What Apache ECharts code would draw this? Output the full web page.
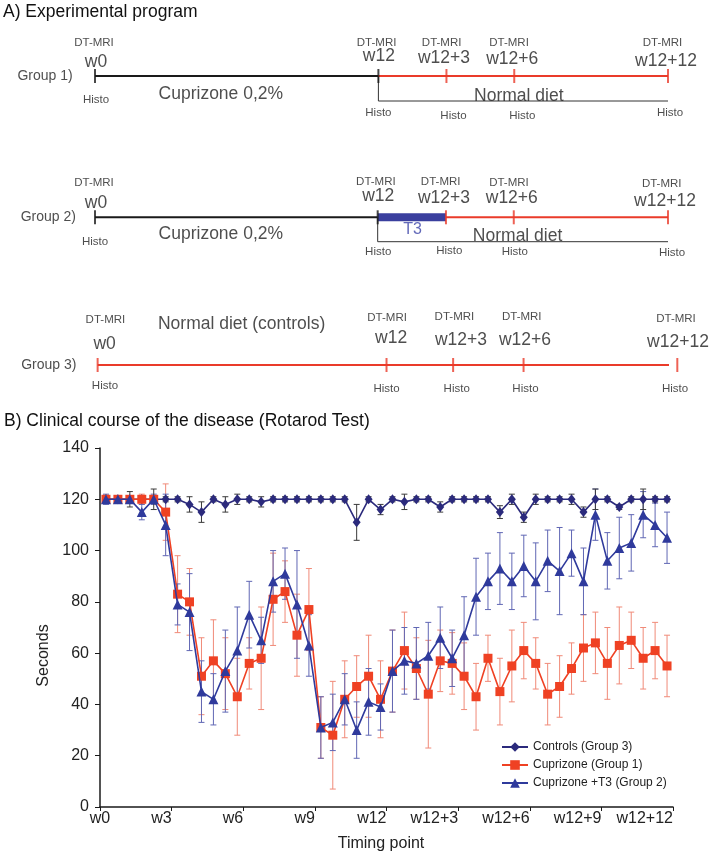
<!DOCTYPE html>
<html>
<head>
<meta charset="utf-8">
<script src="https://cdn.jsdelivr.net/npm/echarts@6.0.0/dist/echarts.min.js"></script>
<style>html,body{margin:0;padding:0;background:#fff}#c{width:709px;height:853px}</style>
</head>
<body>
<div id="c"></div>
<script>
// ---------- DATA ----------
// Panel A: timeline positions (weeks, as drawn) of the 5 timepoints per group
const timeLabels = ['w0', 'w12', 'w12+3', 'w12+6', 'w12+12'];
const group1Pos = [0, 11.87, 14.72, 17.56, 24.0];
const group2Pos = [0, 11.84, 14.70, 17.54, 24.0];
const group3Pos = [0.11, 12.21, 15.0, 17.95, 24.39];
const groupNames = ['Group 1)', 'Group 2)', 'Group 3)'];

// Panel B: rotarod test, 48 time points (half-week bins), seconds
const xTickLabels = ['w0', 'w3', 'w6', 'w9', 'w12', 'w12+3', 'w12+6', 'w12+9', 'w12+12'];
const seriesNames = ['Controls (Group 3)', 'Cuprizone (Group 1)', 'Cuprizone +T3 (Group 2)'];
const controls = [120,120,120,120,120,120,120,118,115,120,118,120,120,119,120,120,120,120,120,120,120,111,120,116,120,119,120,120,117,120,120,120,120,115,120,113,120,120,120,120,115,120,120,117,120,120,120,120];
const controlsErr = [1.5,1,3,1,4,1,1,3,4,1,3,2,1,2,1,1,1,1,1,1,1,7,1,2,1,3,1,1,2,1,1,1,1,2.5,2,2,2,1,1,2,2,4,1,1,1,4,1,1];
const cuprizone = [120,120,120,120,120,115,83,80,51,57,52,43,56,58,81,84,67,77,31,28,42,47,51,42,53,61,54,44,57,56,51,43,58,45,55,61,56,44,47,54,62,64,56,63,65,58,61,55];
const cuprizoneErr = [1,1,1,2,1,11,15,13,15,16,14,15,10,20,18,12,16,16,12,21,15,12,16,15,16,15,12,21,12,12,13,13,9,13,14,11,10,12,12,10,13,12,14,15,11,12,11,12];
const cuprizoneT3 = [120,120,120,115,120,110,79,76,45,42,53,61,75,65,88,91,79,63,31,33,42,30,41,39,53,57,56,59,66,58,67,82,88,93,88,94,88,96,92,99,88,114,96,101,103,114,110,105];
const cuprizoneT3Err = [2,1,1,3,2,12,8,15,12,10,16,17,13,9,12,10,21,12,12,11,10,11,13,9,16,13,14,13,12,11,15,15,11,14,11,12,15,12,17,9,13,10,11,12,11,9,8.5,10];

// ---------- STYLE / LAYOUT ----------
const FONT = 'Liberation Sans, Arial, sans-serif';
const BLACK = '#1a1a1a', RED = '#ea3b2a', BAR = '#3a3f9e', TXT = '#222';
const NAVY = '#2b2a7c', SQ = '#ef4123', TRI = '#2f3a9c';

const rowLayout = [
  {top: 36, wDx:[1,0.5,-2.5,-2,-2], wDy:[-14.3,-20,-17.7,-17.3,-15.3],
   dDx:[-1,-1.8,-4.8,-5.2,-5.5], dDy:[-32.7,-33.3,-33.3,-33,-32.7],
   hDx:[1,0,7,8,2], hDy:[24,37,39.7,39.7,37], gDx:-50,
   segs:[[0,1,BLACK,2],[1,4,RED,2]], ticks:[BLACK,BLACK,RED,RED,RED], arrowDy:25,
   texts:[{x:5.27, t:'Cuprizone 0,2%', dy:18}, {x:17.75, t:'Normal diet', dy:19.7}]},
  {top: 177.3, wDx:[1,0.5,-2,-2,-3], wDy:[-14.6,-21.3,-19,-19,-16.6],
   dDx:[-1,-1.8,-5.3,-4.8,-6.3], dDy:[-34,-35,-35.3,-34.6,-33.3],
   hDx:[0,0.5,3.3,1,4], hDy:[24.4,34.4,33.4,34.4,35.4], gDx:-46.7,
   segs:[[0,1,BLACK,2],[1,2,BAR,8],[2,4,RED,2]], ticks:[BLACK,BLACK,RED,RED,RED], arrowDy:24.4,
   texts:[{x:5.27, t:'Cuprizone 0,2%', dy:16.7}, {x:17.7, t:'Normal diet', dy:18.7},
          {x:13.3, t:'T3', dy:12.5, color:'#3b44a8', size:16}]},
  {top: 325, wDx:[7,4.6,7.8,1.4,0.7], wDy:[-20.5,-27.3,-25,-25,-23],
   dDx:[7.8,0.6,1.3,-1.8,-1.3], dDy:[-45.5,-47,-48,-48,-46],
   hDx:[7.3,0,3.6,1.9,-2.3], hDy:[20.5,24,24,24,24], gDx:-48.8,
   segs:[[0,4,RED,2]], ticks:[RED,RED,RED,RED,RED], arrowDy:null,
   texts:[{x:6.14, t:'Normal diet (controls)', dy:-41}]}
];
const groupPos = [group1Pos, group2Pos, group3Pos];

const grids = [], xAxes = [], yAxes = [], series = [];

function txt(x, text, dx, dy, size, color) {
  return {value:[x, 0], label:{show:true, position:'inside', formatter:text, offset:[dx, dy],
    fontSize:size, color:color || TXT, fontFamily:FONT}};
}

rowLayout.forEach((L, gi) => {
  const pos = groupPos[gi];
  grids.push({left:95, right:41, top:L.top, height:80});
  xAxes.push({gridIndex:gi, type:'value', min:0, max:24, show:false});
  yAxes.push({gridIndex:gi, type:'value', min:-1, max:1, show:false});
  L.segs.forEach(s => {
    series.push({type:'line', xAxisIndex:gi, yAxisIndex:gi, clip:false, silent:true, symbol:'none',
      data:[[pos[s[0]], 0], [pos[s[1]], 0]], lineStyle:{color:s[2], width:s[3]}, z:2});
  });
  series.push({type:'scatter', xAxisIndex:gi, yAxisIndex:gi, clip:false, silent:true,
    symbol:'rect', symbolSize:[2, 14],
    data: pos.map((p, i) => ({value:[p, 0], itemStyle:{color:L.ticks[i]}})), z:3});
  if (L.arrowDy !== null) {
    const ay = -L.arrowDy / 40;
    series.push({type:'lines', coordinateSystem:'cartesian2d', xAxisIndex:gi, yAxisIndex:gi,
      polyline:true, silent:true, clip:false, symbol:['none','arrow'], symbolSize:6,
      lineStyle:{color:'#333', width:1, opacity:1},
      data:[{coords:[[pos[1], 0], [pos[1], ay], [pos[4], ay]]}], z:1});
  }
  const items = [];
  pos.forEach((p, i) => {
    items.push(txt(p, timeLabels[i], L.wDx[i], L.wDy[i], 17.5));
    items.push(txt(p, 'DT-MRI', L.dDx[i], L.dDy[i], 11.5));
    items.push(txt(p, 'Histo', L.hDx[i], L.hDy[i], 11.5));
  });
  items.push(txt(pos[0], groupNames[gi], L.gDx, 0, 14));
  L.texts.forEach(t => items.push(txt(t.x, t.t, 0, t.dy, t.size || 17.5, t.color)));
  series.push({type:'scatter', xAxisIndex:gi, yAxisIndex:gi, clip:false, silent:true,
    symbolSize:1, itemStyle:{color:'rgba(0,0,0,0)'}, data:items, z:5});
});

// ---------- PANEL B ----------
const G = 3;
grids.push({left:100, top:448, width:573, height:360});
xAxes.push({gridIndex:G, type:'value', min:0, max:48, interval:6,
  axisLine:{show:true, lineStyle:{color:BLACK, width:1.5}},
  axisTick:{show:true, inside:false, length:4, lineStyle:{color:BLACK}},
  splitLine:{show:false},
  axisLabel:{formatter: v => (v === 0 ? '' : xTickLabels[v / 6]), align:'right', margin:4,
    fontSize:16, color:TXT, fontFamily:FONT},
  name:'Timing point', nameLocation:'middle', nameGap:29,
  nameTextStyle:{fontSize:16, color:TXT, fontFamily:FONT, padding:[0, 11, 0, 0]}});
xAxes.push({gridIndex:G, type:'value', min:0, max:48, interval:6, position:'bottom', offset:0,
  axisLine:{show:false}, axisTick:{show:false}, splitLine:{show:false},
  axisLabel:{formatter: v => (v === 0 ? xTickLabels[0] : ''), align:'center', margin:4,
    fontSize:16, color:TXT, fontFamily:FONT}});
yAxes.push({gridIndex:G, type:'value', min:0, max:140, interval:20,
  axisLine:{show:true, lineStyle:{color:BLACK, width:1.5}},
  axisTick:{show:true, inside:false, length:5, lineStyle:{color:BLACK}},
  splitLine:{show:false},
  axisLabel:{margin:11, fontSize:16, color:TXT, fontFamily:FONT},
  name:'Seconds', nameLocation:'middle', nameGap:38, nameRotate:90,
  nameTextStyle:{fontSize:16, color:TXT, fontFamily:FONT, padding:[0, 56, 0, 0]}});

function errSeries(vals, errs, color) {
  return {type:'custom', xAxisIndex:G, yAxisIndex:G, silent:true, z:2,
    data: vals.map((v, i) => [i + 0.5, v - errs[i], v + errs[i]]),
    encode:{x:0, y:[1, 2]},
    renderItem: (params, api) => {
      const x = api.value(0);
      const lo = api.coord([x, api.value(1)]), hi = api.coord([x, api.value(2)]);
      const w = 3, st = {stroke:color, lineWidth:1};
      return {type:'group', children:[
        {type:'line', shape:{x1:lo[0], y1:lo[1], x2:hi[0], y2:hi[1]}, style:st},
        {type:'line', shape:{x1:hi[0]-w, y1:hi[1], x2:hi[0]+w, y2:hi[1]}, style:st},
        {type:'line', shape:{x1:lo[0]-w, y1:lo[1], x2:lo[0]+w, y2:lo[1]}, style:st}
      ]};
    }};
}
series.push(errSeries(cuprizone, cuprizoneErr, '#f08a78'));
series.push(errSeries(cuprizoneT3, cuprizoneT3Err, '#6067b4'));
series.push(errSeries(controls, controlsErr, '#3a3a3a'));

const toXY = arr => arr.map((v, i) => [i + 0.5, v]);
series.push({name:seriesNames[0], type:'line', xAxisIndex:G, yAxisIndex:G, data:toXY(controls),
  symbol:'diamond', symbolSize:[8, 10], lineStyle:{color:NAVY, width:1.6}, itemStyle:{color:NAVY}, z:3});
series.push({name:seriesNames[1], type:'line', xAxisIndex:G, yAxisIndex:G, data:toXY(cuprizone),
  symbol:'rect', symbolSize:9, lineStyle:{color:SQ, width:1.6}, itemStyle:{color:SQ}, z:4});
series.push({name:seriesNames[2], type:'line', xAxisIndex:G, yAxisIndex:G, data:toXY(cuprizoneT3),
  symbol:'triangle', symbolSize:10, lineStyle:{color:TRI, width:1.6}, itemStyle:{color:TRI}, z:5});

const chart = echarts.init(document.getElementById('c'), null, {renderer:'canvas'});
chart.setOption({
  animation:false,
  backgroundColor:'#fff',
  title:[
    {text:'A) Experimental program', left:3, top:3, padding:0,
     textStyle:{fontSize:17.5, fontWeight:'normal', color:'#111', fontFamily:FONT}},
    {text:'B) Clinical course of the disease (Rotarod Test)', left:4, top:412, padding:0,
     textStyle:{fontSize:17.5, fontWeight:'normal', color:'#111', fontFamily:FONT}}
  ],
  legend:{data:seriesNames, orient:'vertical', left:501, top:740, padding:0,
    itemWidth:26, itemHeight:12, itemGap:4,
    textStyle:{fontSize:12, color:TXT, fontFamily:FONT, lineHeight:14}},
  grid:grids, xAxis:xAxes, yAxis:yAxes, series:series
});
</script>
</body>
</html>
